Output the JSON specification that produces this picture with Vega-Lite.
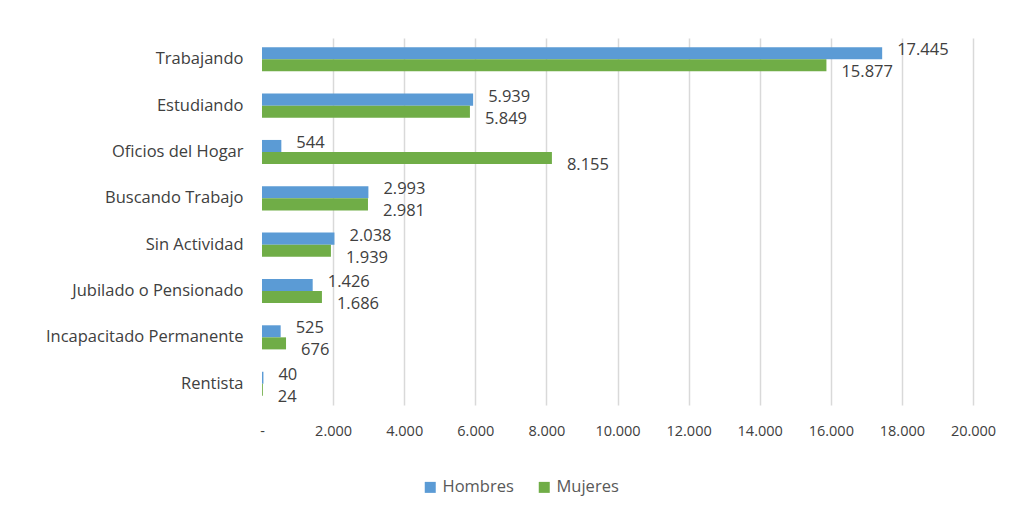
{
  "$schema": "https://vega.github.io/schema/vega-lite/v6.json",
  "width": 711,
  "height": 367,
  "autosize": "none",
  "padding": {"left": 262, "top": 38, "right": 48, "bottom": 114},
  "background": "white",
  "config": {
    "view": {"stroke": null},
    "font": "Open Sans",
    "locale": {"number": {"decimal": ",", "thousands": ".", "grouping": [3], "currency": ["$", ""]}}
  },
  "data": {
    "values": [
      {"categoria": "Trabajando", "sexo": "Hombres", "valor": 17445},
      {"categoria": "Trabajando", "sexo": "Mujeres", "valor": 15877},
      {"categoria": "Estudiando", "sexo": "Hombres", "valor": 5939},
      {"categoria": "Estudiando", "sexo": "Mujeres", "valor": 5849},
      {"categoria": "Oficios del Hogar", "sexo": "Hombres", "valor": 544},
      {"categoria": "Oficios del Hogar", "sexo": "Mujeres", "valor": 8155},
      {"categoria": "Buscando Trabajo", "sexo": "Hombres", "valor": 2993},
      {"categoria": "Buscando Trabajo", "sexo": "Mujeres", "valor": 2981},
      {"categoria": "Sin Actividad", "sexo": "Hombres", "valor": 2038},
      {"categoria": "Sin Actividad", "sexo": "Mujeres", "valor": 1939},
      {"categoria": "Jubilado o Pensionado", "sexo": "Hombres", "valor": 1426},
      {"categoria": "Jubilado o Pensionado", "sexo": "Mujeres", "valor": 1686},
      {"categoria": "Incapacitado Permanente", "sexo": "Hombres", "valor": 525},
      {"categoria": "Incapacitado Permanente", "sexo": "Mujeres", "valor": 676},
      {"categoria": "Rentista", "sexo": "Hombres", "valor": 40},
      {"categoria": "Rentista", "sexo": "Mujeres", "valor": 24}
    ]
  },
  "encoding": {
    "y": {
      "field": "categoria",
      "type": "nominal",
      "sort": ["Trabajando", "Estudiando", "Oficios del Hogar", "Buscando Trabajo", "Sin Actividad", "Jubilado o Pensionado", "Incapacitado Permanente", "Rentista"],
      "scale": {"paddingInner": 0.48, "paddingOuter": 0.2},
      "axis": {"title": null, "domain": false, "ticks": false, "labelPadding": 19, "labelFontSize": 16.5, "labelLimit": 0, "labelColor": "#404040", "labelFont": "Open Sans"}
    },
    "yOffset": {"field": "sexo", "type": "nominal", "sort": ["Hombres", "Mujeres"]},
    "x": {
      "field": "valor",
      "type": "quantitative",
      "scale": {"domain": [0, 20000], "nice": false},
      "axis": {
        "title": null,
        "values": [0, 2000, 4000, 6000, 8000, 10000, 12000, 14000, 16000, 18000, 20000],
        "labelExpr": "datum.value == 0 ? '-' : replace(format(datum.value, ',.0f'), ',', '.')",
        "domain": false,
        "ticks": false,
        "labelFlush": false,
        "labelOverlap": false,
        "labelPadding": 19,
        "labelFontSize": 14.5,
        "labelColor": "#404040",
        "gridColor": {"condition": {"test": "datum.value == 0", "value": "transparent"}, "value": "#d9d9d9"},
        "gridWidth": 1.5
      }
    }
  },
  "layer": [
    {
      "mark": {"type": "bar"},
      "encoding": {
        "color": {
          "field": "sexo",
          "type": "nominal",
          "scale": {"domain": ["Hombres", "Mujeres"], "range": ["#5B9BD5", "#70AD47"]},
          "legend": {
            "title": null,
            "orient": "none",
            "legendX": 160,
            "legendY": 441,
            "direction": "horizontal",
            "symbolType": "square",
            "symbolSize": 121,
            "symbolStrokeWidth": 0,
            "labelFontSize": 16.5,
            "labelColor": "#595959",
            "columnPadding": 22,
            "labelOffset": 4
          }
        }
      }
    },
    {
      "transform": [{"filter": "datum.sexo == 'Hombres'"}],
      "mark": {"type": "text", "align": "left", "baseline": "middle", "dx": 15, "dy": -3, "fontSize": 16.5, "color": "#404040"},
      "encoding": {"text": {"field": "valor", "type": "quantitative", "format": ","}}
    },
    {
      "transform": [{"filter": "datum.sexo == 'Mujeres'"}],
      "mark": {"type": "text", "align": "left", "baseline": "middle", "dx": 15, "dy": 7, "fontSize": 16.5, "color": "#404040"},
      "encoding": {"text": {"field": "valor", "type": "quantitative", "format": ","}}
    }
  ]
}
